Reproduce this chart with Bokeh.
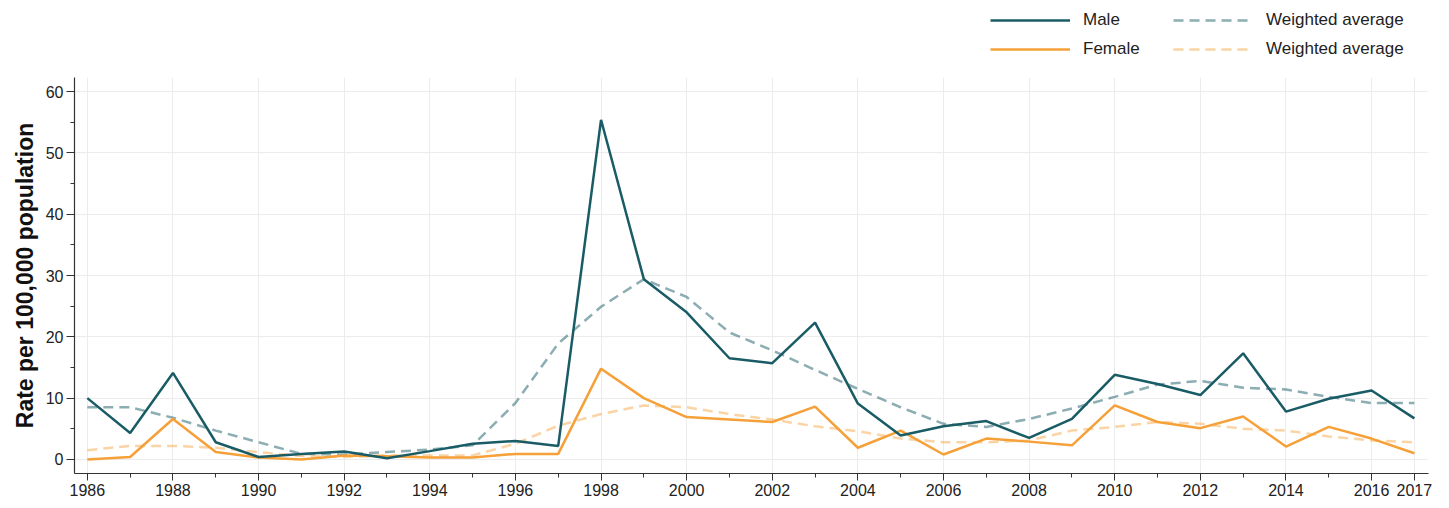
from bokeh.plotting import figure
from bokeh.models import Legend, LegendItem, FixedTicker, Range1d
from bokeh.layouts import column
from bokeh.embed import file_html
from bokeh.resources import INLINE

years = list(range(1986, 2018))

male = [10.0, 4.3, 14.1, 2.8, 0.4, 0.9, 1.3, 0.2, 1.35, 2.55, 3.0, 2.2,
        55.4, 29.4, 24.0, 16.5, 15.7, 22.3, 9.1, 3.9, 5.4, 6.25, 3.5,
        6.6, 13.8, 12.3, 10.5, 17.3, 7.8, 9.9, 11.25, 6.7]

female = [0.0, 0.4, 6.6, 1.2, 0.3, 0.0, 0.65, 0.5, 0.3, 0.3, 0.9, 0.9,
          14.8, 10.0, 6.9, 6.5, 6.1, 8.6, 1.9, 4.7, 0.8, 3.4, 2.9,
          2.3, 8.8, 6.1, 5.1, 7.0, 2.1, 5.3, 3.4, 1.0]

male_wavg = [8.5, 8.5, 6.8, 4.7, 2.8, 0.9, 0.8, 1.2, 1.6, 2.3, 9.2, 18.9,
             24.9, 29.4, 26.5, 20.7, 17.8, 14.6, 11.5, 8.5, 5.8, 5.3, 6.6,
             8.3, 10.2, 12.2, 12.8, 11.7, 11.4, 10.2, 9.2, 9.2]

female_wavg = [1.5, 2.2, 2.2, 1.9, 1.2, 0.55, 0.4, 0.65, 0.65, 0.65, 2.55, 5.5,
               7.4, 8.8, 8.5, 7.4, 6.5, 5.4, 4.6, 3.4, 2.8, 2.8, 3.1,
               4.7, 5.3, 6.1, 5.8, 5.0, 4.7, 3.75, 3.1, 2.8]

series_labels = ["Male", "Female", "Weighted average", "Weighted average"]

x_major_ticks = list(range(1986, 2017, 2)) + [2017]
x_minor_ticks = list(range(1987, 2017, 2))
y_major_ticks = [0, 10, 20, 30, 40, 50, 60]
y_minor_ticks = [5, 15, 25, 35, 45, 55]

MALE_C = "#1a5c66"
FEMALE_C = "#f5a038"
FONT = "Liberation Sans"

styles = [
    dict(line_color=MALE_C, line_width=2.5),
    dict(line_color=FEMALE_C, line_width=2.5),
    dict(line_color=MALE_C, line_alpha=0.5, line_width=2.5, line_dash="10 6"),
    dict(line_color=FEMALE_C, line_alpha=0.45, line_width=2.5, line_dash="10 6"),
]
series = [male, female, male_wavg, female_wavg]

# ---- main chart ----
p = figure(frame_width=1354, frame_height=396, output_backend="svg", toolbar_location=None,
           x_range=Range1d(1985.7, 2017.33), y_range=Range1d(-2.3, 62.3),
           min_border_left=74, min_border_right=21, min_border_top=0,
           min_border_bottom=0)
p.outline_line_color = None
p.background_fill_color = "white"
p.border_fill_color = "white"

for i in (2, 3, 1, 0):
    p.line(years, series[i], **styles[i])

p.xaxis.ticker = FixedTicker(ticks=x_major_ticks, minor_ticks=x_minor_ticks)
p.yaxis.ticker = FixedTicker(ticks=y_major_ticks, minor_ticks=y_minor_ticks)

for ax in (p.xaxis, p.yaxis):
    ax.axis_line_color = "#333333"
    ax.axis_line_width = 1.2
    ax.major_tick_line_color = "#333333"
    ax.minor_tick_line_color = "#333333"
    ax.major_tick_in = 0
    ax.minor_tick_in = 0
    ax.major_tick_out = 8
    ax.minor_tick_out = 4
    ax.major_label_text_font = FONT
    ax.major_label_text_font_size = "16px"
    ax.major_label_text_color = "#222222"
    ax.major_label_standoff = 3

p.xaxis.major_tick_out = 7
p.xaxis.major_label_standoff = 3

p.yaxis.axis_label = "Rate per 100,000 population"
p.yaxis.axis_label_text_font = FONT
p.yaxis.axis_label_text_font_style = "bold"
p.yaxis.axis_label_text_font_size = "23px"
p.yaxis.axis_label_text_color = "#111111"
p.yaxis.axis_label_standoff = 5

p.xgrid.grid_line_color = "#ececec"
p.ygrid.grid_line_color = "#ececec"
p.xgrid.grid_line_width = 1
p.ygrid.grid_line_width = 1

# ---- legend strip above the chart (series drawn off-range, only legend shows) ----
lf = figure(width=1449, height=77, output_backend="svg", toolbar_location=None,
            x_range=Range1d(0, 1), y_range=Range1d(0, 1),
            x_axis_location=None, y_axis_location=None,
            min_border=0, min_border_left=0, min_border_right=0,
            min_border_top=0, min_border_bottom=0)
lf.outline_line_color = None
lf.xgrid.visible = False
lf.ygrid.visible = False
lf.border_fill_color = "white"
lf.background_fill_color = "white"

lrs = [lf.line(years, series[i], **styles[i]) for i in range(4)]

legend = Legend(items=[LegendItem(label=series_labels[i], renderers=[lrs[i]]) for i in range(4)],
                orientation="vertical", nrows=2, location=(916, 16),
                glyph_width=80, glyph_height=24, label_height=24, label_width=85,
                label_standoff=13, spacing=5, padding=0, margin=0,
                border_line_color=None, background_fill_alpha=0,
                label_text_font=FONT, label_text_font_size="17px",
                label_text_color="#222222")
lf.add_layout(legend, "center")

layout = column(lf, p, spacing=0)
open("out.html", "w").write(file_html(layout, INLINE))
